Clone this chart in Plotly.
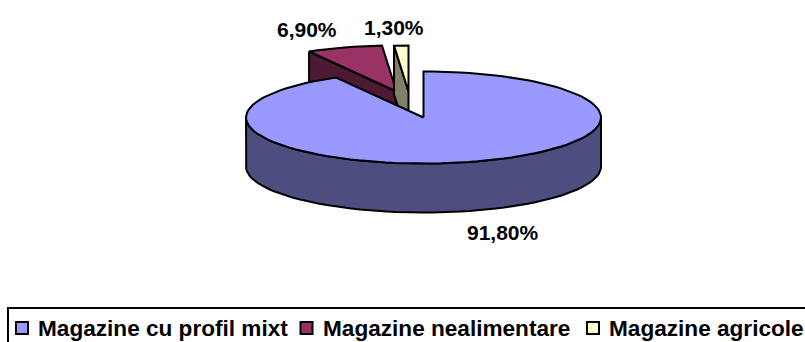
import numpy as np
import plotly.graph_objects as go

# Retail shares by shop type, in percent
categories = ["Magazine cu profil mixt", "Magazine nealimentare", "Magazine agricole"]
shares = [91.8, 6.9, 1.3]

# Slice styling: top face and shaded side face
top_colors = ["#9999FF", "#993366", "#FFFFCC"]
side_colors = ["#4D4D80", "#4D1A33", "#808066"]

# Canvas-sized axes, so geometry constants below read as screen units
WIDTH, HEIGHT = 805, 342
CX, CY = 423.5, 117.5
RX, RY = 177.5, 46
DEPTH = 49
explode = [(0, 0), (-27, -26), (-15, -26)]

label_pos = [(503, 232), (307, 29), (393.5, 27)]
legend_marks = [(22, 328), (306.5, 328), (593, 328)]
legend_text_x = [36, 321, 607]


def rim(a_from, a_to, step=3.0):
    """Points on the pie rim for clockwise angles measured from 12 o'clock."""
    n = max(2, int(abs(a_to - a_from) / step) + 1)
    a = np.radians(np.linspace(a_from, a_to, n))
    return np.sin(a) * RX, -np.cos(a) * RY


def outline(traces, x, y, fill):
    traces.append(go.Scatter(
        x=list(x), y=list(y), mode="lines", fill="toself", fillcolor=fill,
        line=dict(color="#000000", width=2), hoverinfo="skip", showlegend=False,
    ))


# Slice angle spans, clockwise from the top
ends = np.cumsum(shares) / sum(shares) * 360
starts = np.concatenate(([0], ends[:-1]))

traces = []

# Detached small slices go first: the big slice overlaps their lower parts
for i in (1, 2):
    ox, oy = CX + explode[i][0], CY + explode[i][1]
    rx, ry = rim(starts[i], ends[i])
    # Cut face along the slice's starting edge, which looks towards the viewer
    fx, fy = ox + rx[0], oy + ry[0]
    outline(traces, [fx, ox, ox, fx, fx], [fy, oy, oy + DEPTH, fy + DEPTH, fy], side_colors[i])
    outline(traces,
            np.concatenate(([ox], ox + rx, [ox])),
            np.concatenate(([oy], oy + ry, [oy])),
            top_colors[i])

# Big slice: outer wall along the front half, then the top face
wx, wy = rim(90, 270)
outline(traces,
        np.concatenate((CX + wx, (CX + wx)[::-1], [CX + wx[0]])),
        np.concatenate((CY + wy, (CY + wy + DEPTH)[::-1], [CY + wy[0]])),
        side_colors[0])
tx, ty = rim(starts[0], ends[0])
outline(traces,
        np.concatenate(([CX], CX + tx, [CX])),
        np.concatenate(([CY], CY + ty, [CY])),
        top_colors[0])

# Legend swatches
traces.append(go.Scatter(
    x=[p[0] for p in legend_marks], y=[p[1] for p in legend_marks], mode="markers",
    marker=dict(symbol="square", size=12, color=top_colors, line=dict(color="#000000", width=2)),
    hoverinfo="skip", showlegend=False,
))

fig = go.Figure(traces)

annotations = []
for v, (x, y) in zip(shares, label_pos):
    value_text = f"{v:.2f}%".replace(".", ",")
    annotations.append(dict(
        x=x, y=y, xref="x", yref="y", showarrow=False,
        text=f"<b>{value_text}</b>",
        font=dict(family="Liberation Sans", size=21, color="#000000"),
    ))
for name, x, (_, y) in zip(categories, legend_text_x, legend_marks):
    annotations.append(dict(
        x=x, y=y, xref="x", yref="y", xanchor="left", showarrow=False,
        text=f"<b>{name}</b>",
        font=dict(family="Liberation Sans", size=22.6, color="#000000"),
    ))

fig.update_layout(
    width=WIDTH, height=HEIGHT, margin=dict(l=0, r=0, t=0, b=0),
    paper_bgcolor="#FFFFFF", plot_bgcolor="#FFFFFF",
    xaxis=dict(range=[0, WIDTH], visible=False, fixedrange=True),
    yaxis=dict(range=[HEIGHT, 0], visible=False, fixedrange=True),
    annotations=annotations,
    shapes=[dict(type="rect", xref="x", yref="y", x0=8, y0=308, x1=WIDTH + 5, y1=HEIGHT + 5,
                 line=dict(color="#000000", width=2), fillcolor="rgba(0,0,0,0)", layer="below")],
)

fig.write_html("out.html", config={"displayModeBar": False})
